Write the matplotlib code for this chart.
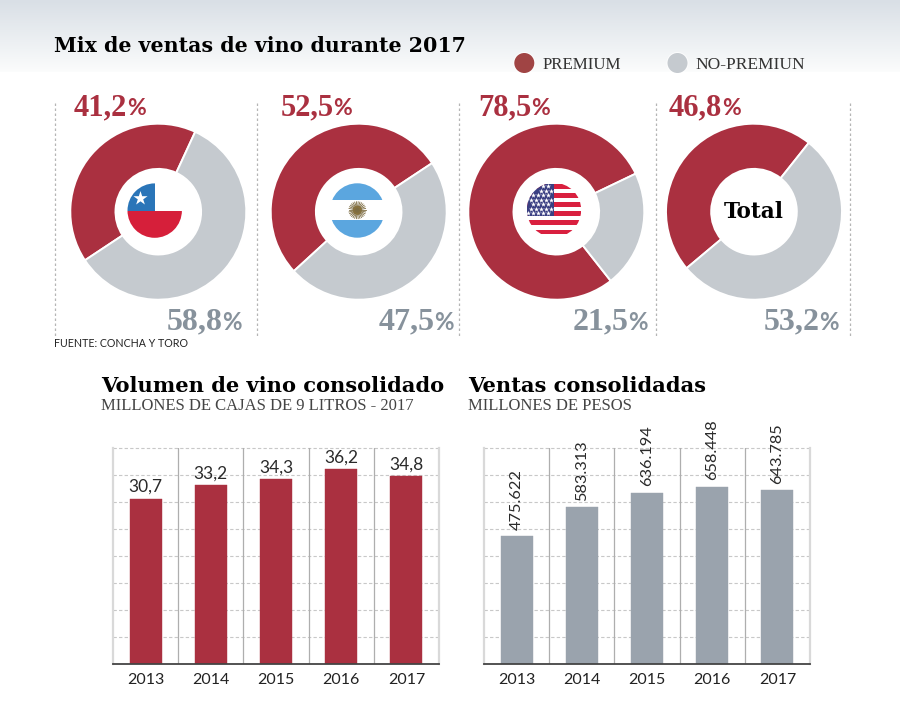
import numpy as np
import matplotlib
matplotlib.use("Agg")
import matplotlib.pyplot as plt
from matplotlib.patches import Circle, Rectangle

# ---------- data ----------
donut_names = ["Chile", "Argentina", "EE.UU.", "Total"]
premium = [41.2, 52.5, 78.5, 46.8]
no_premium = [58.8, 47.5, 21.5, 53.2]
premium_labels = ["41,2", "52,5", "78,5", "46,8"]
no_premium_labels = ["58,8", "47,5", "21,5", "53,2"]
start_angles = [65.2, 33.5, 25.6, 51.5]

years = ["2013", "2014", "2015", "2016", "2017"]
volumen = [30.7, 33.2, 34.3, 36.2, 34.8]
volumen_labels = ["30,7", "33,2", "34,3", "36,2", "34,8"]
ventas = [475622, 583313, 636194, 658448, 643785]
ventas_labels = ["475.622", "583.313", "636.194", "658.448", "643.785"]

# ---------- style ----------
RED = "#aa3040"
GREY = "#c5cacf"
BAR_GREY = "#9aa3ad"
PCT_GREY = "#87929c"
SERIF = "DejaVu Serif"
SERIF_L = "Liberation Serif"
SANS = "Lato"

W, H = 900, 701
fig = plt.figure(figsize=(W / 100, H / 100), dpi=100, facecolor="white")

bg = fig.add_axes([0, 0, 1, 1], zorder=-1)
bg.set_xlim(0, W); bg.set_ylim(H, 0); bg.axis("off")
top_col = np.array([0xd9, 0xdf, 0xe6]) / 255
bot_col = np.array([0xfb, 0xfc, 0xfc]) / 255
t = np.linspace(0, 1, 72)[:, None, None]
grad = top_col[None, None, :] * (1 - t) + bot_col[None, None, :] * t
bg.imshow(grad, extent=(0, W, 72, 0), aspect="auto", zorder=0)
bg.set_xlim(0, W); bg.set_ylim(H, 0)

for x in [54.5, 256.5, 459, 655.7, 850.3]:
    bg.plot([x, x], [103, 336], color="#b5b5b5", lw=0.9, ls=(0, (2, 2)))

# ---------- donuts ----------
centers = [158.3, 358.7, 556.3, 754.0]
cy = 211.7
R = 88.0
r_in = 42.8
for cx, p, n, sa in zip(centers, premium, no_premium, start_angles):
    ax = fig.add_axes([(cx - R - 2) / W, 1 - (cy + R + 2) / H, (2 * R + 4) / W, (2 * R + 4) / H])
    ax.pie([p, n], colors=[RED, GREY], startangle=sa, counterclock=True, radius=1,
           wedgeprops=dict(width=(R - r_in) / R, edgecolor="white", linewidth=1.4))
    lim = (R + 2) / R
    ax.set_xlim(-lim, lim); ax.set_ylim(-lim, lim)

# ---------- top overlay ----------
ov = fig.add_axes([0, 0, 1, 1], zorder=10)
ov.set_xlim(0, W); ov.set_ylim(H, 0); ov.axis("off"); ov.patch.set_alpha(0)

def clip_circle(cx, cy_, rad):
    c = Circle((cx, cy_), rad, facecolor="none", edgecolor="none")
    ov.add_patch(c)
    return c

# Chile
fx, fy, fr = 154.7, 210.6, 27.2
clip = clip_circle(fx, fy, fr)
for xy, w, h, col in [((fx - fr, fy - fr), fr + 0.3, fr + 0.4, "#2a75b8"),
                      ((fx - fr, fy + 0.6), 2 * fr, fr, "#d61f3a")]:
    ov.add_patch(Rectangle(xy, w, h, facecolor=col, edgecolor="none", clip_path=clip))
ov.scatter([140.0], [197.6], marker="*", s=115, color="white", linewidths=0)

# Argentina
fx, fy, fr = 357.3, 210.5, 27.2
clip = clip_circle(fx, fy, fr)
ov.add_patch(Rectangle((fx - fr, fy - fr), 2 * fr, 16.7, facecolor="#5ba6df", edgecolor="none", clip_path=clip))
ov.add_patch(Rectangle((fx - fr, fy + 9.5), 2 * fr, 18, facecolor="#5ba6df", edgecolor="none", clip_path=clip))
for a in np.arange(0, 360, 12):
    ov.plot([357.3, 357.3 + 8.5 * np.cos(np.radians(a))], [210.2, 210.2 + 8.5 * np.sin(np.radians(a))],
            color="#7d6c42", lw=0.6)
ov.add_patch(Circle((357.3, 210.2), 4.2, facecolor="#e0a526", edgecolor="#8a6a20", lw=0.4))

# USA
fx, fy, fr = 554.0, 210.0, 27.2
clip = clip_circle(fx, fy, fr)
s_top, s_h = 184.0, 4.55
for i in range(11):
    col = "#d9203f" if i % 2 == 0 else "white"
    ov.add_patch(Rectangle((fx - fr, s_top + i * s_h), 2 * fr, s_h, facecolor=col, edgecolor="none", clip_path=clip))
ov.add_patch(Rectangle((fx - fr, s_top), fr + 0.3, 7 * s_h, facecolor="#3a3f82", edgecolor="none", clip_path=clip))
sx, sy = [], []
for row in range(7):
    for col in range(6):
        xs = fx - fr + 1.5 + col * 5.0 + (2.5 if row % 2 else 0)
        ys = s_top + 2.3 + row * 4.5
        if xs < fx - 1 and (xs - fx) ** 2 + (ys - fy) ** 2 < (fr - 1) ** 2:
            sx.append(xs); sy.append(ys)
ov.scatter(sx, sy, marker="*", s=15, color="white", linewidths=0)

ov.text(754, 212, "Total", fontsize=15.5, fontweight="bold", family=SERIF, ha="center", va="center", color="black")

# ---------- percent labels ----------
renderer = fig.canvas.get_renderer()

def pct(x_left, base, num, col, size=22):
    a = ov.text(x_left, base, num, fontsize=size, fontweight="bold", family=SERIF_L, color=col, va="baseline")
    bb = a.get_window_extent(renderer)
    ov.text(bb.x1 - 0.5, base, "%", fontsize=size * 0.75, family=SANS, fontweight="bold", color=col, va="baseline")

for x, s in zip([74, 281, 478, 669], premium_labels):
    pct(x, 115, s, RED)
for x, s in zip([167, 379, 573, 764], no_premium_labels):
    pct(x, 329.5, s, PCT_GREY, 23)

# ---------- titles and legend ----------
ov.text(54.5, 52, "Mix de ventas de vino durante 2017", fontsize=14.8, fontweight="bold", family=SERIF, color="black", va="baseline")
ov.add_patch(Circle((524.3, 63), 11, facecolor="white", edgecolor="none", alpha=0.8))
ov.add_patch(Circle((524.3, 63), 10, facecolor="#a04444", edgecolor="none"))
ov.add_patch(Circle((677.5, 63), 11, facecolor="white", edgecolor="none", alpha=0.8))
ov.add_patch(Circle((677.5, 63), 10, facecolor=GREY, edgecolor="none"))
ov.text(543, 69, "PREMIUM", fontsize=12.2, family=SERIF_L, color="#333333", va="baseline")
ov.text(695.5, 69, "NO-PREMIUN", fontsize=12.5, family=SERIF_L, color="#333333", va="baseline")
ov.text(54.5, 347, "FUENTE: CONCHA Y TORO", fontsize=7.7, family=SANS, color="#222222", va="baseline")

ov.text(101, 391.7, "Volumen de vino consolidado", fontsize=15.1, fontweight="bold", family=SERIF, color="black", va="baseline")
ov.text(101, 410, "MILLONES DE CAJAS DE 9 LITROS - 2017", fontsize=12, family=SERIF_L, color="#444444", va="baseline")
ov.text(468, 391.7, "Ventas consolidadas", fontsize=15.1, fontweight="bold", family=SERIF, color="black", va="baseline")
ov.text(468, 410, "MILLONES DE PESOS", fontsize=12, family=SERIF_L, color="#444444", va="baseline")

# ---------- bars ----------
def bars(left, right, vals, labels, ymax, step, col, rotated):
    top_px, base_px = 448.3, 664.3
    ax = fig.add_axes([left / W, 1 - base_px / H, (right - left) / W, (base_px - top_px) / H])
    x = np.arange(len(vals))
    ax.set_xlim(-0.5, 4.5); ax.set_ylim(0, ymax)
    for y in np.arange(step, ymax + step / 2, step):
        ax.axhline(y, color="#c8c8c8", lw=0.8, ls=(0, (3, 2)), zorder=1, clip_on=False)
    for e in np.arange(0.5, 4, 1):
        ax.axvline(e, color="#aeaeae", lw=0.9, zorder=1)
    ax.bar(x, vals, width=0.49, color=col, edgecolor=col, linewidth=0.3, zorder=2)
    ax.spines["top"].set_visible(False)
    for s in ["left", "right"]:
        ax.spines[s].set_color("#d9d9d9"); ax.spines[s].set_linewidth(1.6)
    ax.spines["bottom"].set_color("#444444"); ax.spines["bottom"].set_linewidth(1.3)
    ax.set_yticks([])
    ax.set_xticks(x); ax.set_xticklabels(years, fontsize=11.5, family=SANS, color="#222222")
    ax.tick_params(axis="x", length=0, pad=6)
    ax.patch.set_alpha(0)
    for xi, v, s in zip(x, vals, labels):
        if rotated:
            ax.annotate(s, (xi, v), xytext=(0, 4.5), textcoords="offset points", rotation=90,
                        ha="center", va="bottom", fontsize=11.8, family=SANS, color="#2a2a2a", zorder=5)
        else:
            ax.annotate(s, (xi, v), xytext=(0, 4.7), textcoords="offset points",
                        ha="center", va="baseline", fontsize=12.5, family=SANS, color="#2a2a2a", zorder=5)

bars(113, 439, volumen, volumen_labels, 40, 5, RED, False)
bars(484, 810, ventas, ventas_labels, 800000, 100000, BAR_GREY, True)

fig.savefig("out.png", dpi=100)
